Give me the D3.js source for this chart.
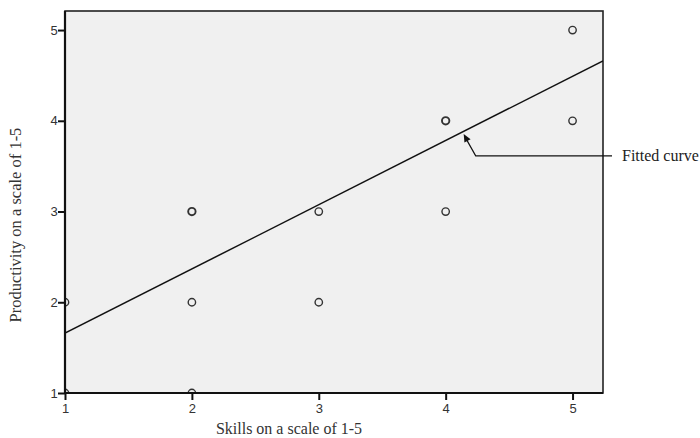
<!DOCTYPE html>
<html><head><meta charset="utf-8">
<script src="https://cdn.jsdelivr.net/npm/d3@7"></script>
<style>body{margin:0;background:#fff}</style>
</head><body>
<svg id="c" width="700" height="438"></svg>
<script>
const skills = [1, 1, 2, 2, 2, 3, 3, 4, 4, 5, 5];
const productivity = [1, 2, 1, 2, 3, 2, 3, 3, 4, 4, 5];
const boldPoints = [false, false, false, false, true, false, false, false, true, false, false];
const xTicks = [1, 2, 3, 4, 5];
const yTicks = [1, 2, 3, 4, 5];
const fitX = [1, 5.24];
const fitY = [1.66, 4.66];
const annotation = "Fitted curve";

const svg = d3.select("#c");
const L = 65, R = 603, T = 11, B = 393;
const x = d3.scaleLinear().domain([1, 5.24]).range([L, R]);
const y = d3.scaleLinear().domain([1, 5.21]).range([B, T]);

svg.append("defs").append("clipPath").attr("id", "clip")
  .append("rect").attr("x", L).attr("y", T).attr("width", R - L).attr("height", B - T);

svg.append("rect").attr("x", L).attr("y", T).attr("width", R - L).attr("height", B - T)
  .attr("fill", "#f0f0f0").attr("stroke", "#222").attr("stroke-width", 1.6);

const g = svg.append("g").attr("clip-path", "url(#clip)");
g.selectAll("circle").data(skills).join("circle")
  .attr("cx", (d) => x(d))
  .attr("cy", (d, i) => y(productivity[i]))
  .attr("r", 3.7)
  .attr("fill", "none")
  .attr("stroke", "#333")
  .attr("stroke-width", (d, i) => boldPoints[i] ? 1.9 : 1.4);

g.append("line")
  .attr("x1", x(fitX[0])).attr("y1", y(fitY[0]))
  .attr("x2", x(fitX[1])).attr("y2", y(fitY[1]))
  .attr("stroke", "#111").attr("stroke-width", 1.5);

// axes
const xAxis = d3.axisBottom(x).tickValues(xTicks).tickFormat(d3.format("d")).tickSize(7).tickSizeOuter(0);
const yAxis = d3.axisLeft(y).tickValues(yTicks).tickFormat(d3.format("d")).tickSize(7).tickSizeOuter(0);
const gx = svg.append("g").attr("transform", `translate(0,${B})`).call(xAxis);
const gy = svg.append("g").attr("transform", `translate(${L},0)`).call(yAxis);
[gx, gy].forEach(a => {
  a.select(".domain").attr("stroke", "#111").attr("stroke-width", 2.2);
  a.selectAll(".tick line").attr("stroke", "#111").attr("stroke-width", 2);
  a.selectAll(".tick text").attr("font-family", "Liberation Sans, Arial, sans-serif")
    .attr("font-size", 13).attr("fill", "#333");
});
gx.select(".domain").attr("d", `M${L},0H${R}`);
gy.select(".domain").attr("d", `M0,${B}V${T}`);
gx.selectAll(".tick text").attr("dy", "0.8em");
gy.selectAll(".tick text").attr("dx", "0.2em");

svg.append("text").attr("x", 289).attr("y", 434).attr("text-anchor", "middle")
  .attr("font-family", "Liberation Serif, Times New Roman, serif").attr("font-size", 16)
  .attr("fill", "#333").text("Skills on a scale of 1-5");
svg.append("text").attr("transform", "translate(21,225) rotate(-90)").attr("text-anchor", "middle")
  .attr("font-family", "Liberation Serif, Times New Roman, serif").attr("font-size", 16.5)
  .attr("fill", "#333").text("Productivity on a scale of 1-5");

// annotation arrow
const ax = 4.15;
const tip = [x(ax) - 1, y(fitY[0] + (ax - fitX[0]) * (fitY[1] - fitY[0]) / (fitX[1] - fitX[0])) + 3];
const bend = [tip[0] + 12, tip[1] + 22];
svg.append("polyline")
  .attr("points", `${tip[0] + 3},${tip[1] + 6} ${bend[0]},${bend[1]} 612,${bend[1]}`)
  .attr("fill", "none").attr("stroke", "#111").attr("stroke-width", 1.2);
const ang = Math.atan2(bend[1] - tip[1], bend[0] - tip[0]);
const ah = 8, aw = 3.5;
const bx = tip[0] + Math.cos(ang) * ah, by = tip[1] + Math.sin(ang) * ah;
svg.append("polygon")
  .attr("points", `${tip[0]},${tip[1]} ${bx - Math.sin(ang) * aw},${by + Math.cos(ang) * aw} ${bx + Math.sin(ang) * aw},${by - Math.cos(ang) * aw}`)
  .attr("fill", "#111");
svg.append("text").attr("x", 622).attr("y", 161)
  .attr("font-family", "Liberation Serif, Times New Roman, serif").attr("font-size", 16)
  .attr("fill", "#222").text(annotation);
</script>
</body></html>
